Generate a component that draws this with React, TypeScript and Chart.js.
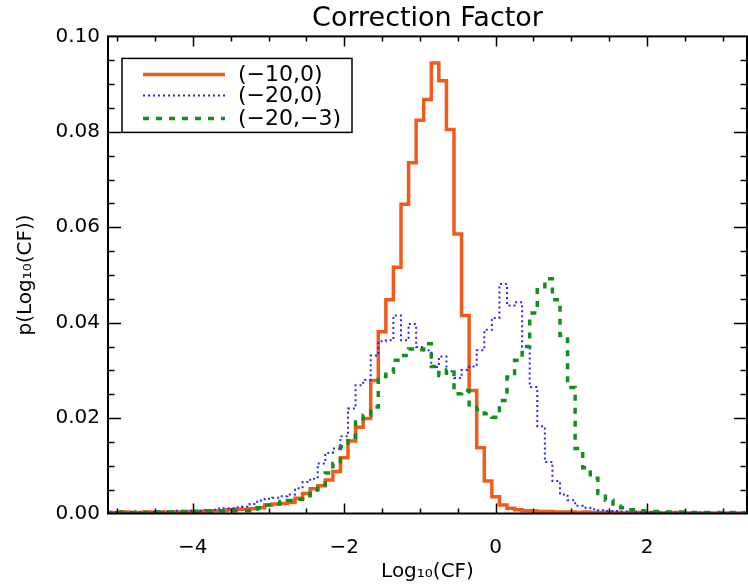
import React, { useEffect, useRef } from "react";
import { Chart, registerables } from "chart.js";

Chart.register(...registerables);

// ---------- data ----------
const TITLE = "Correction Factor";
const X_TITLE = "Log₁₀(CF)";
const Y_TITLE = "p(Log₁₀(CF))";
const SERIES_LABELS = ["(−10,0)", "(−20,0)", "(−20,−3)"];

// histogram bins: left edge of first bin and bin width (bin centres -5.1 ... 3.3)
const BIN_START = -5.15;
const BIN_WIDTH = 0.1;

const X_MIN = -5.12;
const X_MAX = 3.32;
const Y_MIN = 0;
const Y_MAX = 0.1;
const X_TICKS = [-4, -2, 0, 2];
const Y_TICKS = [0, 0.02, 0.04, 0.06, 0.08, 0.1];
const X_MINOR = 0.5;
const Y_MINOR = 0.005;

// (−10,0)
const SERIES_A = [
  0.0002, 0.0002, 0.0003, 0.0002, 0.0002, 0.0003, 0.0002, 0.0003, 0.0003, 0.0003,
  0.0003, 0.0004, 0.0004, 0.0005, 0.0006, 0.0006, 0.0008, 0.0009, 0.0009, 0.0010,
  0.0012, 0.0018, 0.0020, 0.0021, 0.0023, 0.0032, 0.0042, 0.0052, 0.0058, 0.0070,
  0.0088, 0.0117, 0.0152, 0.0181, 0.0199, 0.0279, 0.0381, 0.0448, 0.0516, 0.0648,
  0.0735, 0.0824, 0.0868, 0.0944, 0.0907, 0.0805, 0.0586, 0.0415, 0.0258, 0.0138,
  0.0068, 0.0035, 0.0018, 0.0011, 0.0008, 0.0006, 0.0005, 0.0004, 0.0004, 0.0003,
  0.0003, 0.0003, 0.0002, 0.0003, 0.0002, 0.0002, 0.0002, 0.0002, 0.0001, 0.0002,
  0.0002, 0.0001, 0.0002, 0.0001, 0.0001, 0.0002, 0.0001, 0.0001, 0.0001, 0.0001,
  0.0001, 0.0001, 0.0001, 0.0001, 0.0001,
];

// (−20,0)
const SERIES_B = [
  0.0002, 0.0003, 0.0002, 0.0003, 0.0003, 0.0002, 0.0004, 0.0003, 0.0004, 0.0006,
  0.0005, 0.0006, 0.0006, 0.0007, 0.0008, 0.0011, 0.0011, 0.0013, 0.0014, 0.0020,
  0.0027, 0.0031, 0.0033, 0.0036, 0.0040, 0.0053, 0.0066, 0.0073, 0.0105, 0.0127,
  0.0136, 0.0162, 0.0220, 0.0269, 0.0280, 0.0331, 0.0361, 0.0363, 0.0415, 0.0363,
  0.0397, 0.0349, 0.0342, 0.0307, 0.0329, 0.0298, 0.0284, 0.0301, 0.0308, 0.0342,
  0.0385, 0.0410, 0.0481, 0.0436, 0.0443, 0.0349, 0.0265, 0.0183, 0.0108, 0.0068,
  0.0040, 0.0028, 0.0016, 0.0012, 0.0009, 0.0007, 0.0005, 0.0005, 0.0004, 0.0004,
  0.0003, 0.0003, 0.0003, 0.0002, 0.0002, 0.0002, 0.0002, 0.0001, 0.0002, 0.0001,
  0.0001, 0.0001, 0.0001, 0.0001, 0.0001,
];

// (−20,−3)
const SERIES_C = [
  0.0002, 0.0002, 0.0003, 0.0002, 0.0003, 0.0002, 0.0003, 0.0003, 0.0003, 0.0004,
  0.0004, 0.0004, 0.0004, 0.0005, 0.0006, 0.0006, 0.0006, 0.0006, 0.0006, 0.0009,
  0.0012, 0.0018, 0.0020, 0.0025, 0.0027, 0.0030, 0.0037, 0.0049, 0.0060, 0.0085,
  0.0105, 0.0140, 0.0160, 0.0192, 0.0206, 0.0223, 0.0287, 0.0296, 0.0321, 0.0331,
  0.0345, 0.0343, 0.0356, 0.0308, 0.0289, 0.0301, 0.0251, 0.0258, 0.0228, 0.0218,
  0.0209, 0.0202, 0.0237, 0.0286, 0.0321, 0.0350, 0.0420, 0.0469, 0.0492, 0.0448,
  0.0373, 0.0264, 0.0136, 0.0096, 0.0074, 0.0042, 0.0028, 0.0015, 0.0012, 0.0008,
  0.0006, 0.0005, 0.0004, 0.0004, 0.0003, 0.0003, 0.0003, 0.0002, 0.0002, 0.0002,
  0.0002, 0.0001, 0.0002, 0.0001, 0.0001,
];

const COLORS = ["#f25a1c", "#2626ff", "#10901a"];

// ---------- helpers ----------
function histPoints(values: number[]) {
  const pts = values.map((v, i) => ({ x: BIN_START + i * BIN_WIDTH, y: v }));
  pts.push({ x: BIN_START + values.length * BIN_WIDTH, y: values[values.length - 1] });
  return pts;
}

const FONT = "'DejaVu Sans', 'Liberation Sans', sans-serif";

const framePlugin = {
  id: "frame",
  afterDatasetsDraw(chart: any) {
    const { ctx, chartArea: a, scales } = chart;
    const xs = scales.x;
    const ys = scales.y;
    ctx.save();
    ctx.strokeStyle = "#000";
    ctx.lineCap = "butt";
    ctx.lineWidth = 1.5;
    // x ticks (bottom and top, inward)
    const kx0 = Math.ceil(X_MIN / X_MINOR);
    const kx1 = Math.floor(X_MAX / X_MINOR);
    for (let k = kx0; k <= kx1; k++) {
      const v = k * X_MINOR;
      const px = Math.round(xs.getPixelForValue(v)) + 0.5;
      const major = X_TICKS.some((t) => Math.abs(t - v) < 1e-9);
      const len = major ? 10 : 5;
      ctx.beginPath();
      ctx.moveTo(px, a.bottom);
      ctx.lineTo(px, a.bottom - len);
      ctx.moveTo(px, a.top);
      ctx.lineTo(px, a.top + len);
      ctx.stroke();
    }
    // y ticks (left and right, inward)
    const ky1 = Math.round((Y_MAX - Y_MIN) / Y_MINOR);
    for (let k = 1; k < ky1; k++) {
      const v = Y_MIN + k * Y_MINOR;
      const py = Math.round(ys.getPixelForValue(v)) + 0.5;
      const major = Y_TICKS.some((t) => Math.abs(t - v) < 1e-9);
      const len = major ? 13 : 6.5;
      ctx.beginPath();
      ctx.moveTo(a.left, py);
      ctx.lineTo(a.left + len, py);
      ctx.moveTo(a.right, py);
      ctx.lineTo(a.right - len, py);
      ctx.stroke();
    }
    // box
    ctx.lineWidth = 2;
    ctx.strokeRect(a.left, a.top, a.right - a.left, a.bottom - a.top);
    ctx.restore();
  },
};

const legendPlugin = {
  id: "boxLegend",
  afterDraw(chart: any) {
    const { ctx, chartArea: a } = chart;
    const bx = a.left + 14;
    const by = a.top + 22;
    const bw = 230;
    const bh = 74;
    ctx.save();
    ctx.fillStyle = "#fff";
    ctx.fillRect(bx, by, bw, bh);
    ctx.strokeStyle = "#000";
    ctx.lineWidth = 1.5;
    ctx.strokeRect(bx, by, bw, bh);
    const rows = [16, 37, 60];
    chart.data.datasets.forEach((ds: any, i: number) => {
      const yy = by + rows[i];
      ctx.beginPath();
      ctx.strokeStyle = ds.borderColor;
      ctx.lineWidth = ds.borderWidth;
      ctx.setLineDash(ds.borderDash || []);
      ctx.moveTo(bx + 21, yy);
      ctx.lineTo(bx + 103, yy);
      ctx.stroke();
      ctx.setLineDash([]);
      ctx.fillStyle = "#000";
      ctx.font = `22px ${FONT}`;
      ctx.textBaseline = "middle";
      ctx.textAlign = "left";
      ctx.fillText(ds.label, bx + 116, yy + 1);
    });
    ctx.restore();
  },
};

export default function App() {
  const ref = useRef<HTMLCanvasElement | null>(null);

  useEffect(() => {
    if (!ref.current) return;
    const common = {
      pointRadius: 0,
      pointHoverRadius: 0,
      stepped: "before" as const,
      tension: 0,
      fill: false,
      borderJoinStyle: "miter" as const,
      borderCapStyle: "butt" as const,
    };
    const chart = new Chart(ref.current, {
      type: "line",
      data: {
        datasets: [
          {
            ...common,
            label: SERIES_LABELS[0],
            data: histPoints(SERIES_A),
            borderColor: COLORS[0],
            borderWidth: 3.5,
            borderDash: [],
            order: 3,
          },
          {
            ...common,
            label: SERIES_LABELS[1],
            data: histPoints(SERIES_B),
            borderColor: COLORS[1],
            borderWidth: 2,
            borderDash: [2, 3],
            order: 2,
          },
          {
            ...common,
            label: SERIES_LABELS[2],
            data: histPoints(SERIES_C),
            borderColor: COLORS[2],
            borderWidth: 3.5,
            borderDash: [6, 7],
            order: 1,
          },
        ],
      },
      options: {
        responsive: false,
        animation: false,
        devicePixelRatio: 1,
        layout: { padding: { left: 0, right: 1, top: 0, bottom: 0 } },
        plugins: {
          legend: { display: false },
          tooltip: { enabled: false },
          title: {
            display: true,
            text: TITLE,
            fullSize: false,
            color: "#000",
            font: { family: FONT, size: 27, weight: "normal" },
            padding: { top: 3, bottom: 1 },
          },
        },
        scales: {
          x: {
            type: "linear",
            min: X_MIN,
            max: X_MAX,
            grid: { display: false, drawTicks: false },
            border: { display: false },
            afterBuildTicks: (s: any) => {
              s.ticks = X_TICKS.map((v) => ({ value: v }));
            },
            afterFit: (s: any) => {
              s.height = 71.5;
            },
            ticks: {
              autoSkip: false,
              maxRotation: 0,
              color: "#000",
              padding: 22,
              font: { family: FONT, size: 20 },
              callback: (v: any) => String(v).replace("-", "−"),
            },
            title: {
              display: true,
              text: X_TITLE,
              color: "#000",
              font: { family: FONT, size: 20 },
              padding: { top: 0, bottom: 1 },
            },
          },
          y: {
            type: "linear",
            min: Y_MIN,
            max: Y_MAX,
            grid: { display: false, drawTicks: false },
            border: { display: false },
            afterBuildTicks: (s: any) => {
              s.ticks = Y_TICKS.map((v) => ({ value: v }));
            },
            afterFit: (s: any) => {
              s.width = 108;
            },
            ticks: {
              autoSkip: false,
              color: "#000",
              padding: 8,
              font: { family: FONT, size: 20 },
              callback: (v: any) => Number(v).toFixed(2),
            },
            title: {
              display: true,
              text: Y_TITLE,
              color: "#000",
              font: { family: FONT, size: 20 },
              padding: { top: 14, bottom: 0 },
            },
          },
        },
      },
      plugins: [framePlugin, legendPlugin],
    });
    return () => chart.destroy();
  }, []);

  return (
    <div style={{ position: "absolute", left: 0, top: 0, width: 748, height: 585, background: "#fff" }}>
      <canvas ref={ref} width={748} height={585} style={{ display: "block" }} />
    </div>
  );
}
